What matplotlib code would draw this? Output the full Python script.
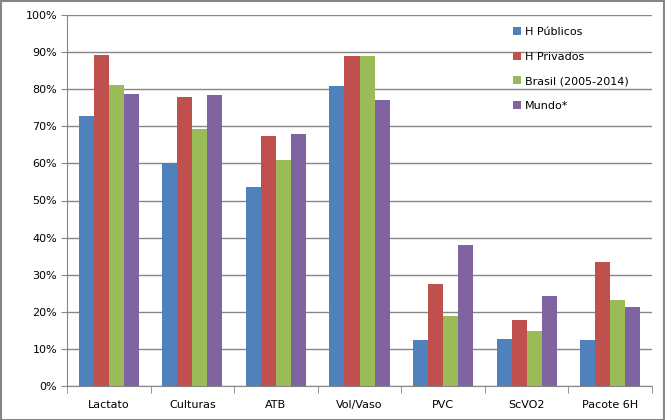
import numpy as np
import matplotlib.pyplot as plt
from matplotlib.ticker import FixedLocator, PercentFormatter

# ----------------------------------------------------------------------------
# Data
# ----------------------------------------------------------------------------
categories = ["Lactato", "Culturas", "ATB", "Vol/Vaso", "PVC", "ScVO2", "Pacote 6H"]
series_names = ["H Públicos", "H Privados", "Brasil (2005-2014)", "Mundo*"]

h_publicos = [72.8, 60.0, 53.6, 80.9, 12.4, 12.7, 12.4]
h_privados = [89.2, 77.9, 67.4, 88.9, 27.5, 17.8, 33.4]
brasil = [81.1, 69.3, 60.9, 88.9, 18.9, 14.8, 23.2]
mundo = [78.7, 78.4, 67.9, 77.1, 38.0, 24.3, 21.3]

colors = ["#4F81BD", "#C0504D", "#9BBB59", "#8064A2"]
GRAY = "#868686"

plt.rcParams["font.family"] = ["DejaVu Sans"]
plt.rcParams["font.size"] = 8

fig = plt.figure(figsize=(6.65, 4.2), dpi=100)
fig.patches.append(plt.Rectangle((0.001, 0.001), 0.997, 0.997, transform=fig.transFigure,
                                 fill=False, edgecolor=GRAY, linewidth=1.5))
ax = fig.add_axes([67 / 665, 34 / 420, 585 / 665, 371 / 420])

x = np.arange(len(categories))
width = 0.18
for i, (vals, name) in enumerate(zip([h_publicos, h_privados, brasil, mundo], series_names)):
    ax.bar(x + (i - 1.5) * width, vals, width, color=colors[i], label=name, zorder=3)

ax.set_xlim(-0.5, len(categories) - 0.5)
ax.set_ylim(0, 100)
ax.set_yticks(np.arange(0, 101, 10))
ax.yaxis.set_major_formatter(PercentFormatter(decimals=0))
ax.yaxis.grid(True, color=GRAY, linewidth=1, zorder=0)

ax.set_xticks(x)
ax.set_xticklabels(categories)
ax.xaxis.set_minor_locator(FixedLocator(np.arange(-0.5, len(categories), 1)))
ax.tick_params(axis="x", which="major", length=0, pad=10)
ax.tick_params(axis="x", which="minor", length=5, color=GRAY, direction="out")
ax.tick_params(axis="y", length=4, color=GRAY, direction="out", pad=3)

for side in ["top", "right"]:
    ax.spines[side].set_visible(False)
for side in ["left", "bottom"]:
    ax.spines[side].set_color(GRAY)

ax.legend(loc="upper left", bbox_to_anchor=(0.745, 0.995), frameon=False,
          handlelength=0.7, handleheight=0.7, handletextpad=0.4, labelspacing=1.32)

fig.savefig("out.png", dpi=100)
